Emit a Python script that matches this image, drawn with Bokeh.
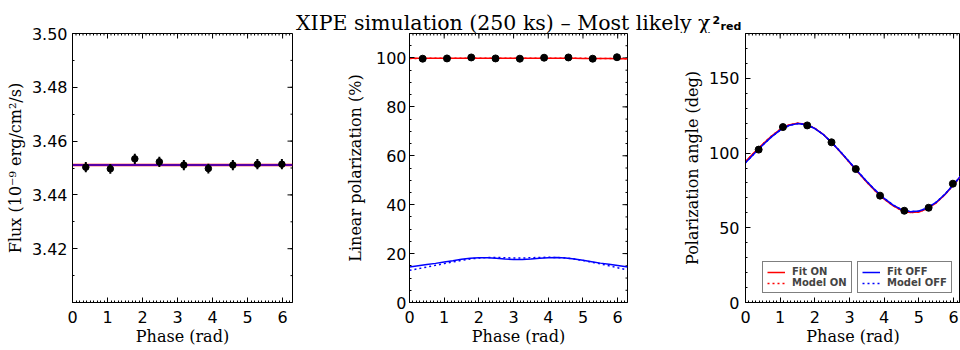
import math
from bokeh.plotting import figure
from bokeh.models import (Range1d, FixedTicker, Label, Legend,
                          LegendItem, PrintfTickFormatter)
from bokeh.layouts import column, row
from bokeh.embed import file_html
from bokeh.resources import INLINE

# ---------------- data ----------------
phase_bins = [0.38, 1.08, 1.78, 2.48, 3.18, 3.88, 4.58, 5.28, 5.98]

flux_data = [3.4503, 3.4497, 3.4534, 3.4523, 3.4511, 3.4498, 3.4511, 3.4514, 3.4514]
flux_err = [0.0019, 0.0018, 0.0019, 0.0019, 0.0019, 0.0018, 0.0019, 0.0019, 0.0019]
flux_phase = [0.0, 6.2832]
flux_fit_on = [3.4511, 3.4511]
flux_fit_off = [3.4511, 3.4511]

pd_data = [99.7, 99.8, 100.2, 99.8, 99.7, 100.1, 100.2, 99.7, 100.3]
curve_phase = [0.0, 0.25, 0.5, 0.75, 1.0, 1.25, 1.5, 1.75, 2.0, 2.25, 2.5, 2.75,
               3.0, 3.25, 3.5, 3.75, 4.0, 4.25, 4.5, 4.75, 5.0, 5.25, 5.5, 5.75,
               6.0, 6.25, 6.2832]
pd_fit_on = [99.9, 99.9, 99.9, 99.9, 99.9, 99.9, 99.9, 99.9, 99.9, 99.9, 99.9, 99.9,
             99.9, 99.9, 99.9, 99.9, 99.9, 99.9, 99.9, 99.9, 99.8, 99.8, 99.8, 99.8,
             99.7, 99.7, 99.7]
pd_model_on = [99.8, 99.8, 99.9, 99.9, 99.9, 99.9, 99.9, 99.9, 99.9, 99.9, 99.9, 99.9,
               99.9, 99.9, 99.9, 99.9, 99.9, 99.9, 99.9, 99.9, 99.9, 99.8, 99.8, 99.8,
               99.8, 99.7, 99.7]
pd_fit_off = [14.5, 15.0, 15.5, 16.0, 16.6, 17.1, 17.7, 18.1, 18.3, 18.3, 18.1, 17.8,
              17.6, 17.6, 17.8, 18.1, 18.3, 18.4, 18.2, 17.8, 17.3, 16.7, 16.1, 15.6,
              15.1, 14.6, 14.5]
pd_model_off = [13.2, 13.8, 14.5, 15.2, 15.9, 16.6, 17.2, 17.8, 18.2, 18.4, 18.4, 18.3,
                18.2, 18.2, 18.3, 18.4, 18.5, 18.4, 18.2, 17.8, 17.2, 16.5, 15.8, 15.0,
                14.2, 13.4, 13.3]

pa_data = [102.3, 117.4, 118.5, 107.2, 89.3, 71.5, 61.4, 63.4, 79.5]
pa_fit_on = [94.3, 100.3, 106.1, 111.4, 115.8, 118.8, 120.0, 119.2, 116.5, 112.3, 106.7, 100.4,
             93.7, 87.0, 80.5, 74.5, 69.2, 64.8, 61.6, 60.2, 60.6, 62.8, 66.7, 72.1,
             78.8, 85.7, 86.5]
pa_fit_off = [93.5, 99.5, 105.4, 110.8, 115.3, 118.4, 119.7, 119.0, 116.4, 112.3, 106.8, 100.6,
              94.0, 87.4, 81.0, 75.0, 69.7, 65.3, 62.2, 60.8, 61.2, 63.3, 67.1, 72.4,
              79.0, 85.8, 86.6]
pa_model_on = pa_fit_on
pa_model_off = pa_fit_off

x_major = [0, 1, 2, 3, 4, 5, 6]
flux_major = [3.42, 3.44, 3.46, 3.48, 3.50]
pd_major = [0, 20, 40, 60, 80, 100]
pa_major = [0, 50, 100, 150]

RED = "#ff0000"
BLUE = "#0000ff"
TICK_FONT = "DejaVu Sans"
LABEL_FONT = "DejaVu Serif"

x_minor = [round(0.1 * k, 1) for k in range(0, 63)]


def make_fig(width, height, left, right, top, xr, yr):
    p = figure(width=width, height=height, x_range=xr, y_range=yr, title=None,
               output_backend="svg", toolbar_location=None,
               min_border_left=left, min_border_right=right,
               min_border_top=top, min_border_bottom=48)
    p.grid.visible = False
    p.outline_line_color = "black"
    p.outline_line_width = 1
    p.background_fill_color = "white"
    p.border_fill_color = "white"
    return p


def style_axes(p, ymaj, ymin, fmt, ylabel, ystand, ylabstand, right_ticks=True):
    p.xaxis.ticker = FixedTicker(ticks=x_major, minor_ticks=x_minor)
    p.yaxis.ticker = FixedTicker(ticks=ymaj, minor_ticks=ymin)
    p.yaxis.formatter = PrintfTickFormatter(format=fmt)
    p.xaxis.axis_label = "Phase (rad)"
    p.yaxis.axis_label = ylabel
    for ax in p.xaxis + p.yaxis:
        ax.axis_line_color = "black"
        ax.major_tick_in = 5
        ax.major_tick_out = 0
        ax.minor_tick_in = 2
        ax.minor_tick_out = 0
        ax.major_tick_line_color = "black"
        ax.minor_tick_line_color = "black"
        ax.major_label_text_font = TICK_FONT
        ax.major_label_text_font_size = "16px"
        ax.major_label_text_color = "black"
        ax.axis_label_text_font = LABEL_FONT
        ax.axis_label_text_font_size = "16px"
        ax.axis_label_text_font_style = "normal"
        ax.axis_label_text_color = "black"
    p.xaxis.major_label_standoff = 8
    p.xaxis.axis_label_standoff = 1
    p.yaxis.major_label_standoff = ystand
    p.yaxis.axis_label_standoff = ylabstand

    # mirrored inward ticks on the top (and right) frame edges
    xr, yr = p.x_range, p.y_range
    xmaj = [t for t in x_major if t <= xr.end]
    xmin = [t for t in x_minor if t <= xr.end]
    p.ray(x=xmaj, y=[yr.end] * len(xmaj), length=5, length_units="screen",
          angle=-math.pi / 2, line_color="black", line_width=1)
    p.ray(x=xmin, y=[yr.end] * len(xmin), length=2, length_units="screen",
          angle=-math.pi / 2, line_color="black", line_width=1)
    if right_ticks:
        p.ray(x=[xr.end] * len(ymaj), y=ymaj, length=5, length_units="screen",
              angle=math.pi, line_color="black", line_width=1)
        p.ray(x=[xr.end] * len(ymin), y=ymin, length=2, length_units="screen",
              angle=math.pi, line_color="black", line_width=1)


# ---------------- panel 1: flux ----------------
p1 = make_fig(293, 350, 72, 1, 33, Range1d(0, 6.2832), Range1d(3.40, 3.50))
style_axes(p1, flux_major, [round(3.40 + 0.01 * k, 2) for k in range(11)], "%.2f",
           "Flux (10\u207b\u2079 erg/cm\u00b2/s)", 5, 4)
p1.line(flux_phase, flux_fit_on, line_color=RED, line_width=2.5)
p1.line(flux_phase, flux_fit_off, line_color=BLUE, line_width=2, line_alpha=0.65)
p1.segment(x0=phase_bins, y0=[v - e for v, e in zip(flux_data, flux_err)],
           x1=phase_bins, y1=[v + e for v, e in zip(flux_data, flux_err)],
           line_color="black", line_width=2)
p1.scatter(phase_bins, flux_data, size=6.5, color="black")

# ---------------- panel 2: polarization degree ----------------
p2 = make_fig(367, 317, 116, 33, 0, Range1d(0, 6.2832), Range1d(0, 110))
style_axes(p2, pd_major, [5 * k for k in range(23)], "%d",
           "Linear polarization (%)", 3, 8)
p2.line(curve_phase, pd_fit_on, line_color=RED, line_width=1.5)
p2.line(curve_phase, pd_model_on, line_color=RED, line_width=1.5, line_dash="2 3")
p2.line(curve_phase, pd_fit_off, line_color=BLUE, line_width=1.5)
p2.line(curve_phase, pd_model_off, line_color=BLUE, line_width=1.5, line_dash="2 3")
p2.scatter(phase_bins, pd_data, size=7, color="black")

# ---------------- panel 3: polarization angle ----------------
p3 = make_fig(300, 317, 85, 0, 0, Range1d(0, 6.2), Range1d(0, 180))
style_axes(p3, pa_major, [10 * k for k in range(19)], "%d",
           "Polarization angle (deg)", 6, 4, right_ticks=False)
r_fon = p3.line(curve_phase, pa_fit_on, line_color=RED, line_width=1.5)
r_mon = p3.line(curve_phase, pa_model_on, line_color=RED, line_width=1.5, line_dash="2 3")
r_foff = p3.line(curve_phase, pa_fit_off, line_color=BLUE, line_width=1.5)
r_moff = p3.line(curve_phase, pa_model_off, line_color=BLUE, line_width=1.5, line_dash="2 3")
p3.scatter(phase_bins, pa_data, size=7, color="black")


def make_legend(items, loc):
    lg = Legend(items=items, location=loc)
    lg.border_line_color = "black"
    lg.border_line_width = 1.5
    lg.background_fill_color = "white"
    lg.background_fill_alpha = 1
    lg.label_text_font = "DejaVu Sans"
    lg.label_text_font_style = "bold"
    lg.label_text_font_size = "10px"
    lg.glyph_width = 18
    lg.glyph_height = 10
    lg.label_height = 10
    lg.label_standoff = 7
    lg.padding = 4
    lg.spacing = 0
    lg.margin = 0
    return lg


p3.add_layout(make_legend([LegendItem(label="Fit ON", renderers=[r_fon]),
                           LegendItem(label="Model ON", renderers=[r_mon])], (17, 9)))
p3.add_layout(make_legend([LegendItem(label="Fit OFF", renderers=[r_foff]),
                           LegendItem(label="Model OFF", renderers=[r_moff])], (112, 9)))

# ---------------- title (page-pixel coordinates, x from 293 to 960) ----------------
tf = figure(width=667, height=33, x_range=Range1d(293, 960), y_range=Range1d(0, 33),
            title=None, output_backend="svg", toolbar_location=None, min_border=0,
            x_axis_type=None, y_axis_type=None)
tf.grid.visible = False
tf.outline_line_color = None
tf.border_fill_color = "white"
tf.background_fill_color = "white"

tf.add_layout(Label(x=710, y=11, text="XIPE simulation (250 ks) \u2013 Most likely \u03c7",
                    text_align="right", text_font=LABEL_FONT, text_font_size="20.5px",
                    text_baseline="alphabetic", text_color="black"))
tf.add_layout(Label(x=712, y=14, text="2", text_align="left", text_font="DejaVu Sans",
                    text_font_size="11px", text_font_style="bold",
                    text_baseline="alphabetic", text_color="black"))
tf.add_layout(Label(x=720, y=7, text="red", text_align="left", text_font="DejaVu Sans",
                    text_font_size="11px", text_font_style="bold",
                    text_baseline="alphabetic", text_color="black"))

layout = row(p1, column(tf, row(p2, p3, spacing=0), spacing=0), spacing=0)

open("out.html", "w").write(file_html(layout, INLINE))
